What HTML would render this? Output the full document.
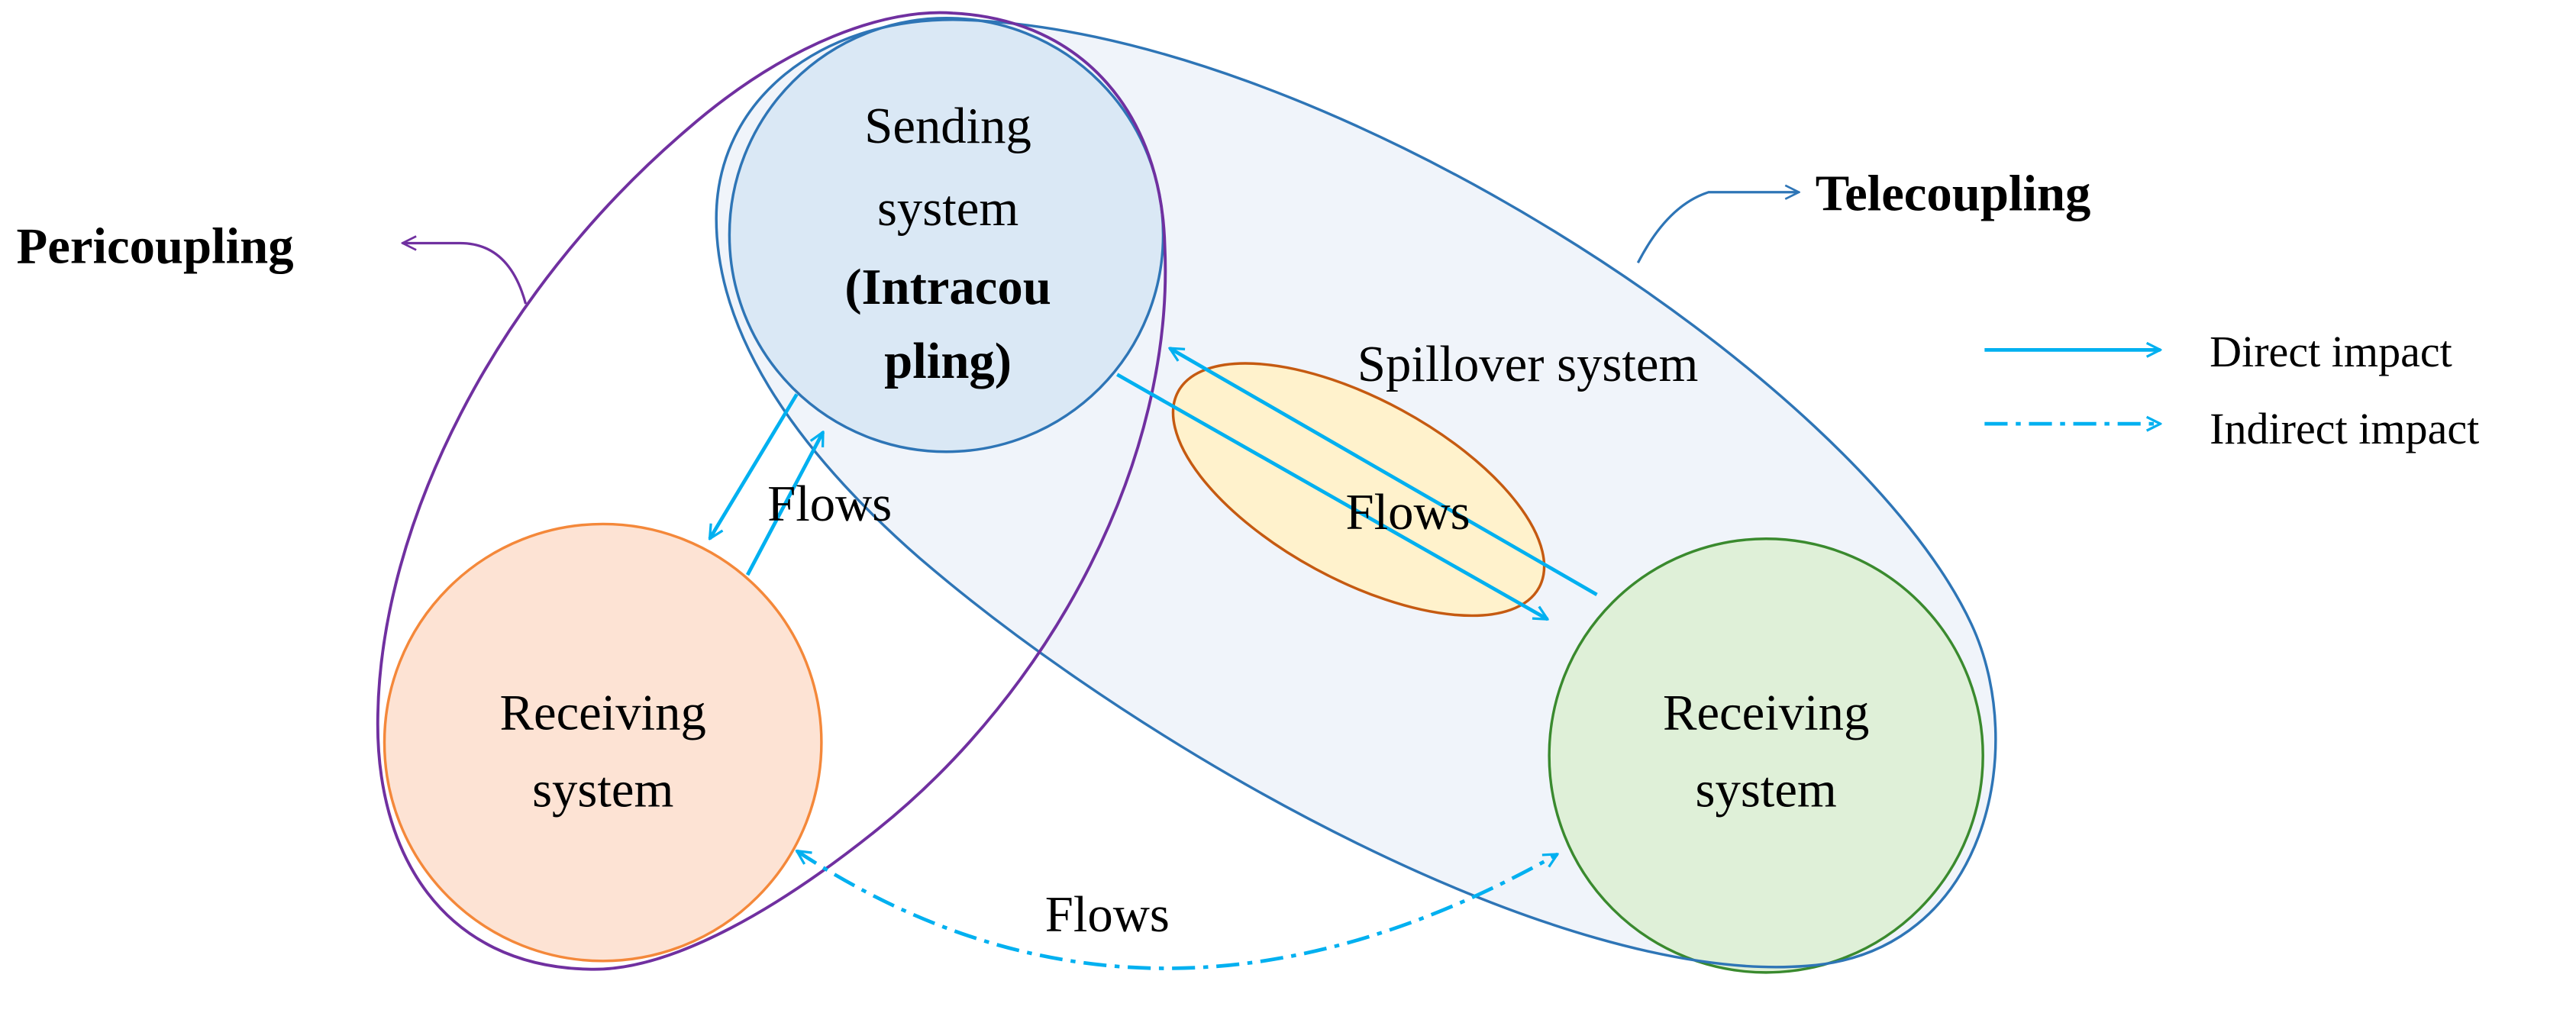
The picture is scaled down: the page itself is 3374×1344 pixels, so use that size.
<!DOCTYPE html>
<html><head><meta charset="utf-8"><style>
html,body{margin:0;padding:0;background:#fff;overflow:hidden;}
svg{display:block;}
text{font-family:"Liberation Serif",serif;fill:#000;}
</style></head><body>
<svg width="3374" height="1344" viewBox="0 0 1568 624.6" xmlns="http://www.w3.org/2000/svg">
<defs>
<marker id="ac" viewBox="0 0 12 12" refX="11" refY="6" markerWidth="10" markerHeight="10" markerUnits="userSpaceOnUse" orient="auto-start-reverse">
<path d="M1,1 L11,6 L1,11" fill="none" stroke="#00b0f0" stroke-width="1.8"/></marker>
<marker id="ab" viewBox="0 0 12 12" refX="11" refY="6" markerWidth="10" markerHeight="10" markerUnits="userSpaceOnUse" orient="auto">
<path d="M1,1 L11,6 L1,11" fill="none" stroke="#2e75b6" stroke-width="1.5"/></marker>
<marker id="ap" viewBox="0 0 12 12" refX="11" refY="6" markerWidth="10" markerHeight="10" markerUnits="userSpaceOnUse" orient="auto">
<path d="M1,1 L11,6 L1,11" fill="none" stroke="#7030a0" stroke-width="1.5"/></marker>
</defs>
<path d="M436,133 C436,60 500,12 580,12 C800,15 1130,230 1200,380 C1235,455 1210,580 1100,588 C950,600 700,460 560,340 C480,270 436,200 436,133 Z" fill="#f0f4fa" stroke="none"/>
<circle cx="576" cy="143" r="132" fill="#dae8f5" stroke="#2e75b6" stroke-width="1.6"/>
<circle cx="367" cy="452" r="133" fill="#fde3d4" stroke="#f4883a" stroke-width="1.6"/>
<circle cx="1075" cy="460" r="132" fill="#dff0d8" stroke="#3a8a2e" stroke-width="1.6"/>
<ellipse cx="827" cy="298" rx="125" ry="55" transform="rotate(28.5 827 298)" fill="#fff2cc" stroke="#c55a11" stroke-width="1.6"/>
<path d="M436,133 C436,60 500,12 580,12 C800,15 1130,230 1200,380 C1235,455 1210,580 1100,588 C950,600 700,460 560,340 C480,270 436,200 436,133 Z" fill="none" stroke="#2e75b6" stroke-width="1.6"/>
<path d="M709,150 C715,280 640,420 534,505 C478,550 410,592 358,590 C270,588 228,520 230,435 C232,320 300,180 418,79 C480,25 540,5 580,8 C660,12 707,70 709,150 Z" fill="none" stroke="#7030a0" stroke-width="1.8"/>
<g stroke="#00b0f0" stroke-width="2.2" fill="none">
<line x1="485" y1="240" x2="432" y2="328" marker-end="url(#ac)"/>
<line x1="455" y1="350" x2="501" y2="263" marker-end="url(#ac)"/>
<line x1="680" y1="228" x2="942" y2="377" marker-end="url(#ac)"/>
<line x1="972" y1="362" x2="712" y2="212" marker-end="url(#ac)"/>
<path d="M485,518 Q700,660 948,520" stroke-dasharray="14,5,3,5" marker-start="url(#ac)" marker-end="url(#ac)"/>
<line x1="1208" y1="213" x2="1315" y2="213" marker-end="url(#ac)"/>
<line x1="1208" y1="258" x2="1315" y2="258" stroke-dasharray="14,5,3,5" marker-end="url(#ac)"/>
</g>
<path d="M997,160 Q1015,125 1040,117 L1095,117" fill="none" stroke="#2e75b6" stroke-width="1.5" marker-end="url(#ab)"/>
<path d="M320,185 Q310,148 280,148 L245,148" fill="none" stroke="#7030a0" stroke-width="1.5" marker-end="url(#ap)"/>
<g font-size="31" text-anchor="middle">
<text x="577" y="87">Sending</text>
<text x="577" y="137">system</text>
<text x="577" y="185" font-weight="bold">(Intracou</text>
<text x="577" y="230" font-weight="bold">pling)</text>
<text x="367" y="444">Receiving</text>
<text x="367" y="491">system</text>
<text x="1075" y="444">Receiving</text>
<text x="1075" y="491">system</text>
<text x="505" y="317">Flows</text>
<text x="857" y="322">Flows</text>
<text x="674" y="567">Flows</text>
<text x="930" y="232">Spillover system</text>
</g>
<text x="10" y="160" font-size="31" font-weight="bold">Pericoupling</text>
<text x="1105" y="128" font-size="31" font-weight="bold">Telecoupling</text>
<text x="1345" y="223" font-size="27">Direct impact</text>
<text x="1345" y="270" font-size="27">Indirect impact</text>
</svg>
</body></html>
